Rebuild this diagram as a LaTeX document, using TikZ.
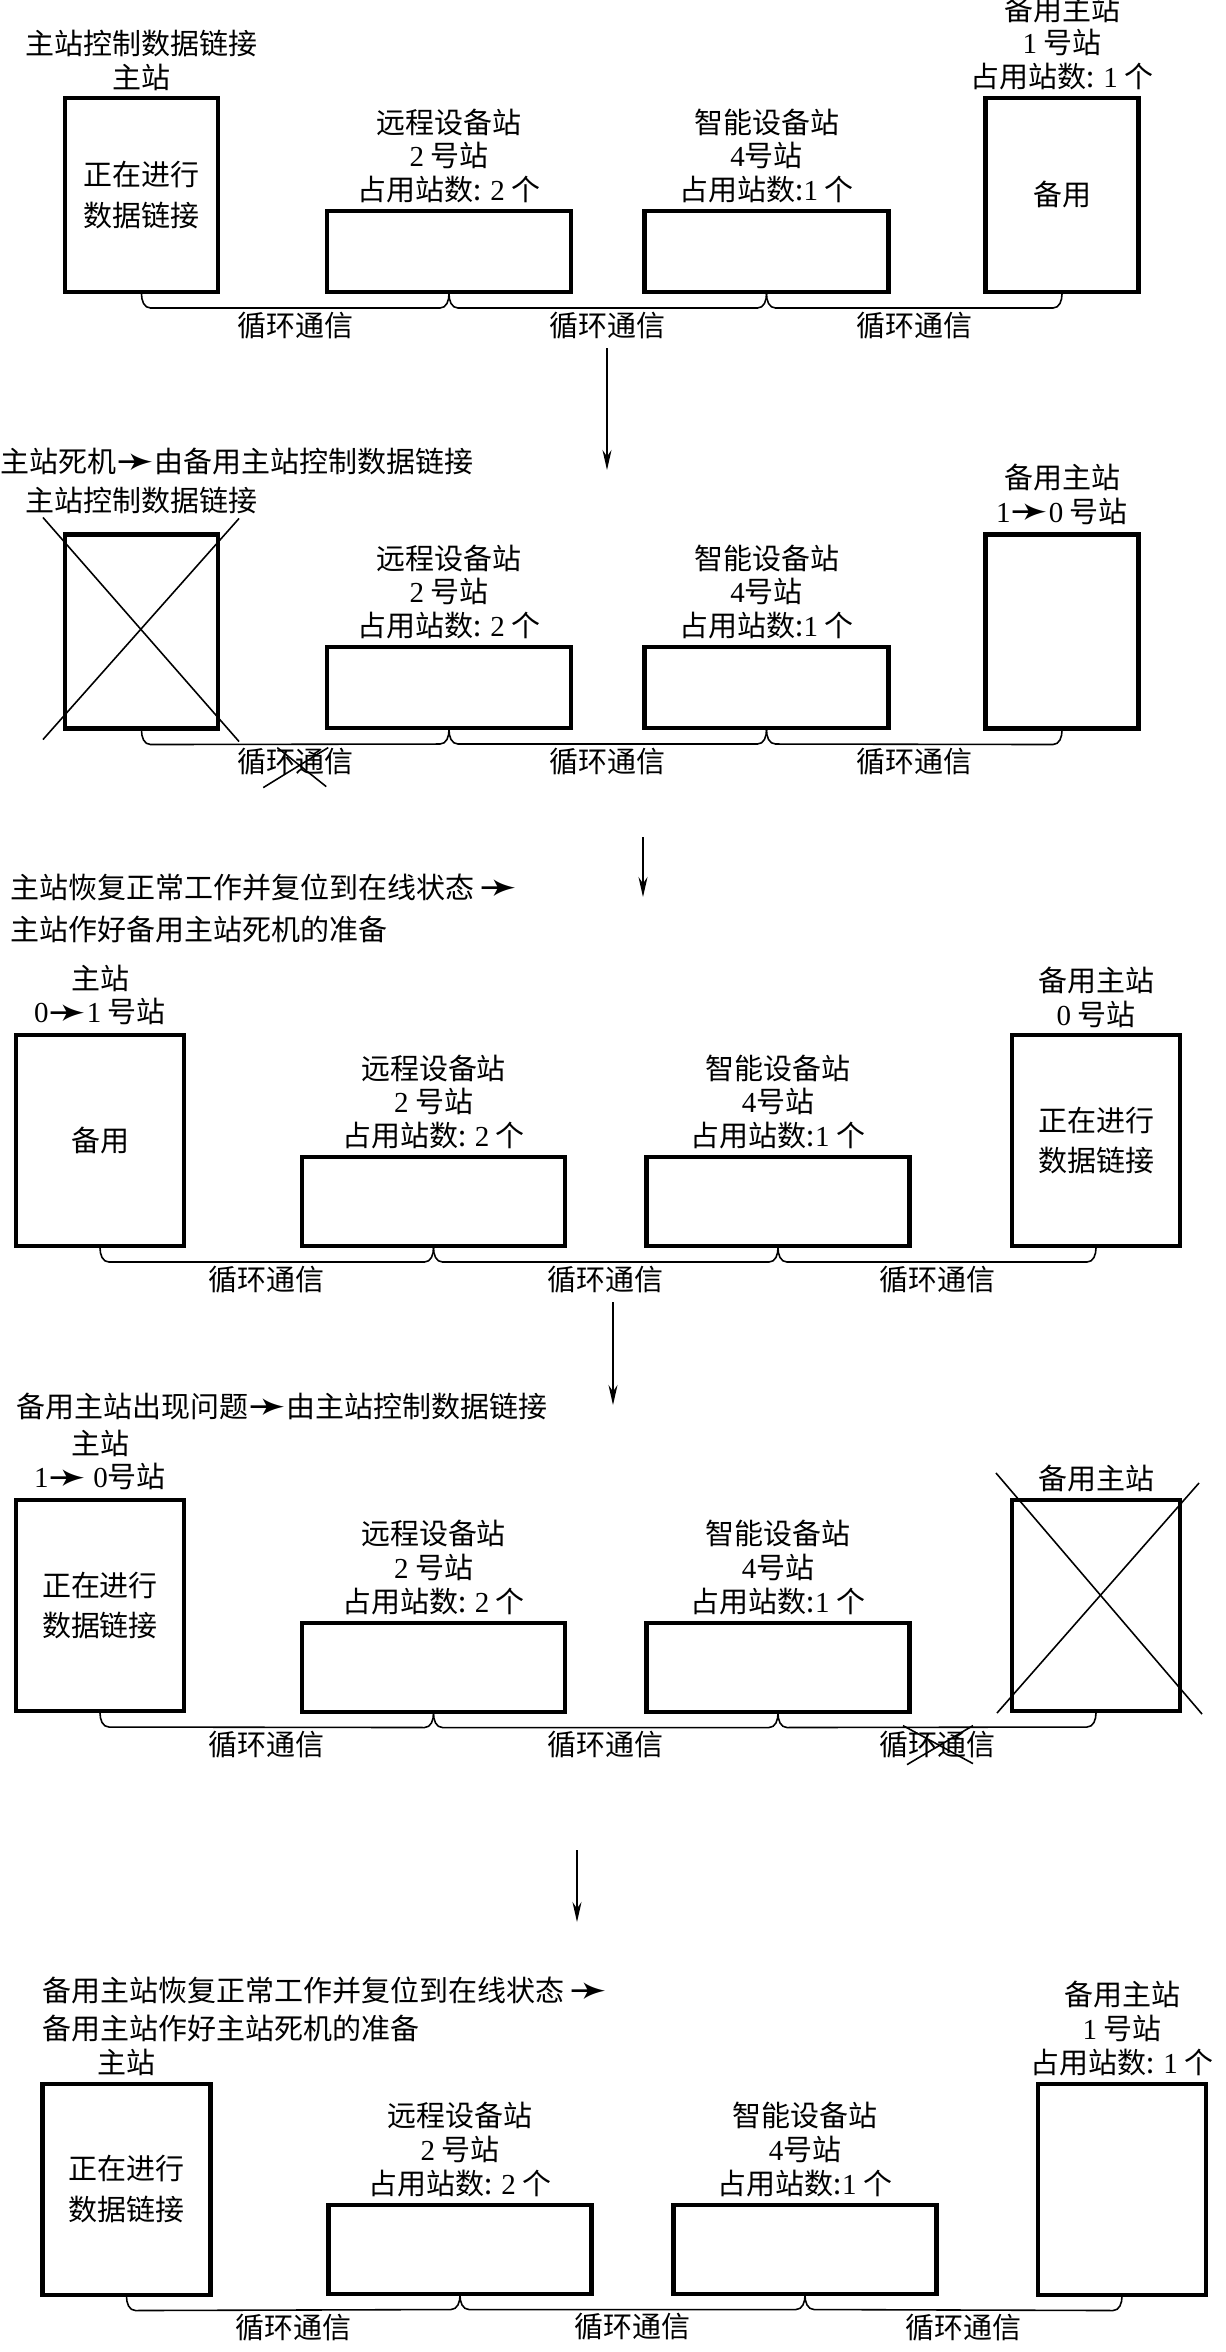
\documentclass[tikz,border=0pt]{standalone}
\usepackage{fontspec}
\usetikzlibrary{arrows.meta,positioning,calc}
\newfontfamily\cjk{Noto Sans CJK SC}
\newfontfamily\latn{Liberation Serif}
\newfontfamily\arrowfont{DejaVu Sans}
\newcommand\dg[1]{{\latn #1}}
\newcommand\goes{\raisebox{-2.5pt}{\arrowfont\fontsize{26pt}{19.3pt}\selectfont ➛}}

\begin{document}
\begin{tikzpicture}[font=\fontsize{16.5pt}{19.3pt}\cjk,
stn/.style={draw,line width=2.3pt,inner sep=0pt,align=center},
tallA/.style={stn,minimum width=3.06cm,minimum height=3.88cm},
wideA/.style={stn,minimum width=4.88cm,minimum height=1.62cm},
tallB/.style={stn,minimum width=3.36cm,minimum height=4.22cm},
wideB/.style={stn,minimum width=5.26cm,minimum height=1.78cm},
lab/.style={inner sep=1pt,align=center},
headline/.style={inner sep=0pt,anchor=west,align=left},
ring/.style={line width=0.9pt},
cyc/.style={anchor=north,inner sep=2pt},
xline/.style={line width=0.9pt},
flow/.style={-{Stealth[length=4mm,width=1.8mm]},line width=0.9pt}]
\useasboundingbox (0,0) rectangle (24.5,-47.04);

% 1: master station runs the link
\node[tallA] (L1) at (2.83,-3.90) {正在进行\\[3.6pt]数据链接};
\node[wideA] (R1) at (8.98,-5.03) {};
\node[wideA] (S1) at (15.33,-5.03) {};
\node[tallA] (B1) at (21.24,-3.90) {备用};
\node[lab,above=2pt of L1] (l1) {主站控制数据链接\\主站};
\node[lab,above=2pt of R1] (r1) {远程设备站\\\dg{2} 号站\\占用站数: \dg{2} 个};
\node[lab,above=2pt of S1] (s1) {智能设备站\\\dg{4}号站\\占用站数:\dg{1} 个};
\node[lab,above=2pt of B1] (b1) {备用主站\\\dg{1} 号站\\占用站数: \dg{1} 个};

% 2: master down
\node[headline] (t2) at (0,-9.24) {主站死机\goes 由备用主站控制数据链接};
\node[tallA] (L2) at (2.83,-12.63) {};
\node[wideA] (R2) at (8.98,-13.75) {};
\node[wideA] (S2) at (15.33,-13.75) {};
\node[tallA] (B2) at (21.24,-12.63) {};
\node[lab,above=0.33cm of L2] (l2) {主站控制数据链接};
\node[lab,above=2pt of R2] (r2) {远程设备站\\\dg{2} 号站\\占用站数: \dg{2} 个};
\node[lab,above=2pt of S2] (s2) {智能设备站\\\dg{4}号站\\占用站数:\dg{1} 个};
\node[lab,above=2pt of B2] (b2) {备用主站\\\dg{1}\goes\dg{0} 号站};

% 3: master back as standby
\node[headline] (t3) at (0.2,-18.17) {主站恢复正常工作并复位到在线状态\,\goes\\[5pt]主站作好备用主站死机的准备};
\node[tallB] (L3) at (2.0,-22.81) {备用};
\node[wideB] (R3) at (8.67,-24.03) {};
\node[wideB] (S3) at (15.56,-24.03) {};
\node[tallB] (B3) at (21.92,-22.81) {正在进行\\[3.6pt]数据链接};
\node[lab,above=2pt of L3] (l3) {主站\\\dg{0}\goes\dg{1} 号站};
\node[lab,above=2pt of R3] (r3) {远程设备站\\\dg{2} 号站\\占用站数: \dg{2} 个};
\node[lab,above=2pt of S3] (s3) {智能设备站\\\dg{4}号站\\占用站数:\dg{1} 个};
\node[lab,above=2pt of B3] (b3) {备用主站\\\dg{0} 号站};

% 4: standby down
\node[headline] (t4) at (0.32,-28.14) {备用主站出现问题\goes 由主站控制数据链接};
\node[tallB] (L4) at (2.0,-32.11) {正在进行\\[3.6pt]数据链接};
\node[wideB] (R4) at (8.67,-33.34) {};
\node[wideB] (S4) at (15.56,-33.34) {};
\node[tallB] (B4) at (21.92,-32.11) {};
\node[lab,above=2pt of L4] (l4) {主站\\\dg{1}\goes\ \dg{0}号站};
\node[lab,above=2pt of R4] (r4) {远程设备站\\\dg{2} 号站\\占用站数: \dg{2} 个};
\node[lab,above=2pt of S4] (s4) {智能设备站\\\dg{4}号站\\占用站数:\dg{1} 个};
\node[lab,above=2pt of B4] (b4) {备用主站};

% 5: standby back
\node[headline] (t5) at (0.84,-40.19) {备用主站恢复正常工作并复位到在线状态\,\goes\\[2.8pt]备用主站作好主站死机的准备};
\node[tallB] (L5) at (2.53,-43.78) {正在进行\\[3.6pt]数据链接};
\node[wideB] (R5) at (9.2,-44.98) {};
\node[wideB] (S5) at (16.1,-44.98) {};
\node[tallB] (B5) at (22.44,-43.78) {};
\node[lab,above=2pt of L5] (l5) {主站};
\node[lab,above=2pt of R5] (r5) {远程设备站\\\dg{2} 号站\\占用站数: \dg{2} 个};
\node[lab,above=2pt of S5] (s5) {智能设备站\\\dg{4}号站\\占用站数:\dg{1} 个};
\node[lab,above=2pt of B5] (b5) {备用主站\\\dg{1} 号站\\占用站数: \dg{1} 个};

% cyclic links under the stations
\foreach \p in {1,...,5}
  \foreach \a/\b [count=\i] in {L/R,R/S,S/B} {
    \draw[ring] (\a\p.south) to[out=-90,in=180] ++(0.18,-0.28) -- ($(\b\p.south)+(-0.18,-0.28)$) to[out=0,in=-90] (\b\p.south);
    \node[cyc] (c\p\i) at ($(\a\p.south)!.5!(\b\p.south)+(0,-0.28)$) {循环通信};
  }

% failed parts
\draw[xline] ($(L2.north west)+(-0.4,0.3)$) -- ($(L2.south east)+(0.38,-0.22)$);
\draw[xline] ($(L2.north east)+(0.38,0.28)$) -- ($(L2.south west)+(-0.4,-0.18)$);
\draw[xline] ($(c21.center)+(-0.64,-0.52)$) -- ($(c21.center)+(0.66,0.28)$);
\draw[xline] ($(c21.center)+(-0.36,0.28)$) -- ($(c21.center)+(0.62,-0.5)$);
\draw[xline] ($(B4.north west)+(-0.28,0.5)$) -- ($(B4.south east)+(0.4,-0.02)$);
\draw[xline] ($(B4.north east)+(0.34,0.3)$) -- ($(B4.south west)+(-0.26,0)$);
\draw[xline] ($(c43.center)+(-0.6,-0.4)$) -- ($(c43.center)+(0.72,0.38)$);
\draw[xline] ($(c43.center)+(-0.68,0.38)$) -- ($(c43.center)+(0.72,-0.38)$);

% steps
\coordinate (a1) at (12.14,-6.96);
\coordinate (a1e) at (12.14,-9.40);
\coordinate (a2) at (12.86,-16.74);
\coordinate (a2e) at (12.86,-17.94);
\coordinate (a3) at (12.26,-26.04);
\coordinate (a3e) at (12.26,-28.10);
\coordinate (a4) at (11.54,-37.0);
\coordinate (a4e) at (11.54,-38.44);
\draw[flow] (a1) -- (a1e);
\draw[flow] (a2) -- (a2e);
\draw[flow] (a3) -- (a3e);
\draw[flow] (a4) -- (a4e);
\end{tikzpicture}
\end{document}
